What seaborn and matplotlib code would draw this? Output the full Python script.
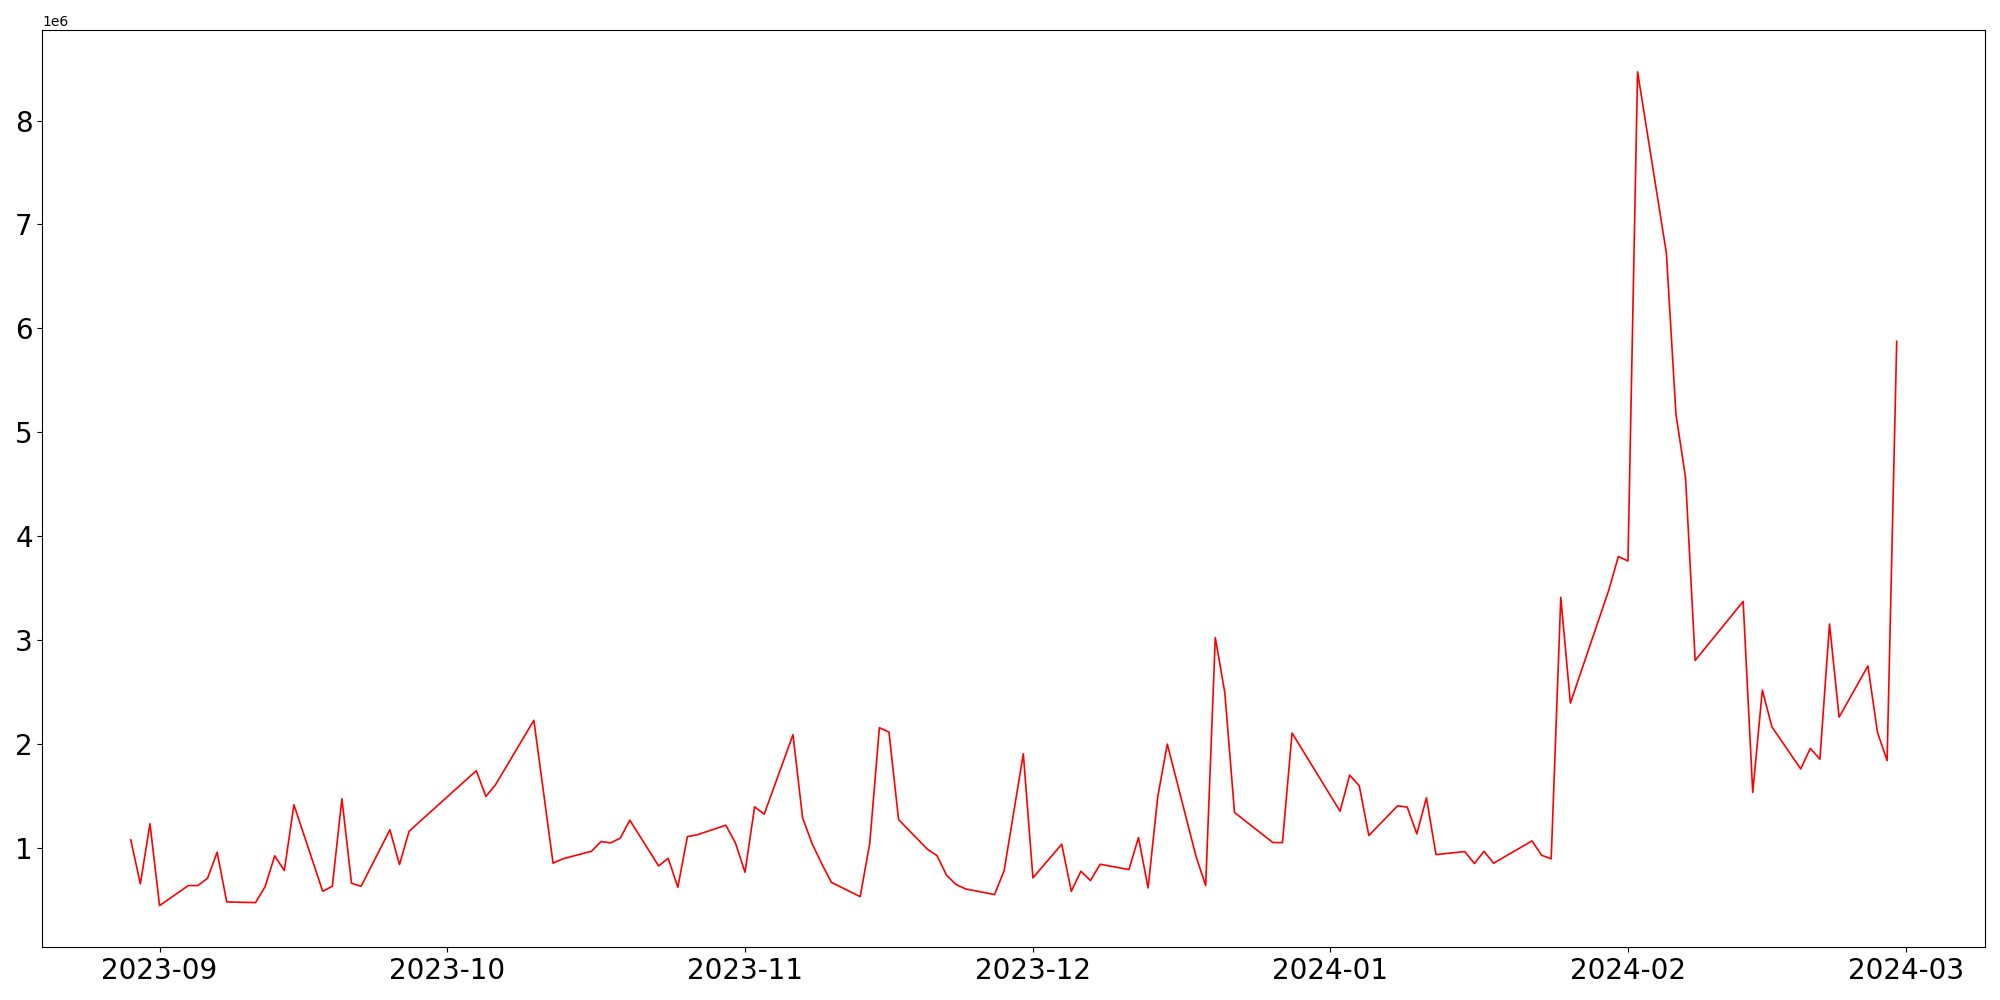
import pandas as pd
import matplotlib
matplotlib.use("Agg")
import matplotlib.pyplot as plt
import matplotlib.dates as mdates
import seaborn as sns

# daily values (in millions)
dates = [
    "2023-08-29", "2023-08-30", "2023-08-31", "2023-09-01", "2023-09-04",
    "2023-09-05", "2023-09-06", "2023-09-07", "2023-09-08", "2023-09-11",
    "2023-09-12", "2023-09-13", "2023-09-14", "2023-09-15", "2023-09-18",
    "2023-09-19", "2023-09-20", "2023-09-21", "2023-09-22", "2023-09-25",
    "2023-09-26", "2023-09-27", "2023-10-04", "2023-10-05", "2023-10-06",
    "2023-10-10", "2023-10-12", "2023-10-13", "2023-10-16", "2023-10-17",
    "2023-10-18", "2023-10-19", "2023-10-20", "2023-10-23", "2023-10-24",
    "2023-10-25", "2023-10-26", "2023-10-27", "2023-10-30", "2023-10-31",
    "2023-11-01", "2023-11-02", "2023-11-03", "2023-11-06", "2023-11-07",
    "2023-11-08", "2023-11-09", "2023-11-10", "2023-11-13", "2023-11-14",
    "2023-11-15", "2023-11-16", "2023-11-17", "2023-11-20", "2023-11-21",
    "2023-11-22", "2023-11-23", "2023-11-24", "2023-11-27", "2023-11-28",
    "2023-11-30", "2023-12-01", "2023-12-04", "2023-12-05", "2023-12-06",
    "2023-12-07", "2023-12-08", "2023-12-11", "2023-12-12", "2023-12-13",
    "2023-12-14", "2023-12-15", "2023-12-18", "2023-12-19", "2023-12-20",
    "2023-12-21", "2023-12-22", "2023-12-26", "2023-12-27", "2023-12-28",
    "2024-01-02", "2024-01-03", "2024-01-04", "2024-01-05", "2024-01-08",
    "2024-01-09", "2024-01-10", "2024-01-11", "2024-01-12", "2024-01-15",
    "2024-01-16", "2024-01-17", "2024-01-18", "2024-01-22", "2024-01-23",
    "2024-01-24", "2024-01-25", "2024-01-26", "2024-01-30", "2024-01-31",
    "2024-02-01", "2024-02-02", "2024-02-05", "2024-02-06", "2024-02-07",
    "2024-02-08", "2024-02-13", "2024-02-14", "2024-02-15", "2024-02-16",
    "2024-02-19", "2024-02-20", "2024-02-21", "2024-02-22", "2024-02-23",
    "2024-02-26", "2024-02-27", "2024-02-28", "2024-02-29",
]
values_m = [
    1.074, 0.650, 1.229, 0.441, 0.634,
    0.634, 0.704, 0.955, 0.476, 0.470,
    0.624, 0.920, 0.778, 1.412, 0.579,
    0.627, 1.470, 0.656, 0.627, 1.171,
    0.836, 1.157, 1.740, 1.492, 1.604,
    2.225, 0.849, 0.891, 0.964, 1.058,
    1.045, 1.090, 1.263, 0.823, 0.897,
    0.617, 1.106, 1.122, 1.215, 1.045,
    0.762, 1.392, 1.321, 2.087, 1.286,
    1.036, 0.843, 0.665, 0.527, 1.042,
    2.154, 2.112, 1.270, 0.984, 0.923,
    0.733, 0.643, 0.601, 0.547, 0.778,
    1.903, 0.708, 1.032, 0.579, 0.772,
    0.682, 0.839, 0.788, 1.096, 0.611,
    1.485, 1.996, 0.913, 0.634, 3.022,
    2.488, 1.338, 1.048, 1.048, 2.103,
    1.350, 1.697, 1.595, 1.116, 1.402,
    1.389, 1.132, 1.479, 0.932, 0.961,
    0.846, 0.964, 0.849, 1.064, 0.926,
    0.891, 3.409, 2.391, 3.479, 3.803,
    3.760, 8.470, 6.726, 5.173, 4.561,
    2.802, 3.370, 1.531, 2.516, 2.161,
    1.757, 1.955, 1.851, 3.153, 2.256,
    2.749, 2.108, 1.837, 5.875,
]

df = pd.DataFrame({"date": pd.to_datetime(dates),
                   "value": [v * 1e6 for v in values_m]})

fig, ax = plt.subplots(figsize=(20, 10), dpi=100)
sns.lineplot(data=df, x="date", y="value", color="red", linewidth=1.2, ax=ax)

ax.set_xlabel("")
ax.set_ylabel("")
ax.xaxis.set_major_locator(mdates.MonthLocator())
ax.xaxis.set_major_formatter(mdates.DateFormatter("%Y-%m"))
plt.xticks(fontsize=20)
plt.yticks(fontsize=20)

plt.tight_layout()
plt.savefig("out.png", dpi=100)
plt.close()
